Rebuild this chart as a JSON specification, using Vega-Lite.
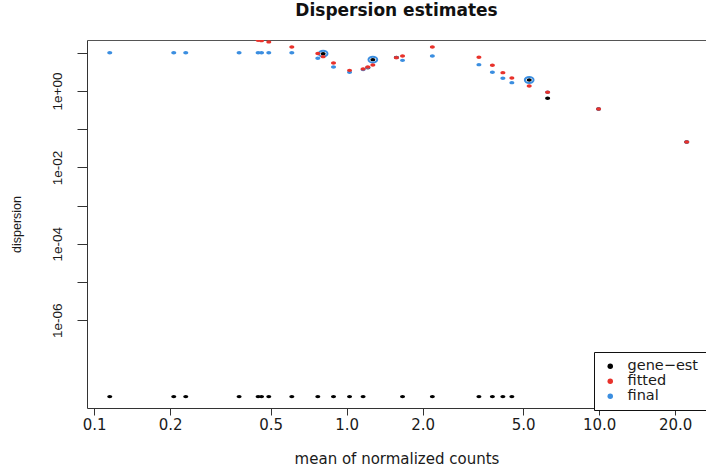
{
  "$schema": "https://vega.github.io/schema/vega-lite/v6.json",
  "width": 619,
  "height": 368,
  "autosize": {"type": "none"},
  "padding": {"left": 87, "top": 40, "right": 0, "bottom": 63},
  "background": "white",
  "title": {"text": "Dispersion estimates", "font": "DejaVu Sans", "fontSize": 17, "fontWeight": "bold", "color": "#111111", "anchor": "middle", "baseline": "alphabetic", "offset": 7},
  "data": {"values": [
    {"mean": 0.1153, "disp": 1e-8, "type": "gene−est", "outlier": false},
    {"mean": 0.2067, "disp": 1e-8, "type": "gene−est", "outlier": false},
    {"mean": 0.2306, "disp": 1e-8, "type": "gene−est", "outlier": false},
    {"mean": 0.3751, "disp": 1e-8, "type": "gene−est", "outlier": false},
    {"mean": 0.4460, "disp": 1e-8, "type": "gene−est", "outlier": false},
    {"mean": 0.4601, "disp": 1e-8, "type": "gene−est", "outlier": false},
    {"mean": 0.4917, "disp": 1e-8, "type": "gene−est", "outlier": false},
    {"mean": 0.6066, "disp": 1e-8, "type": "gene−est", "outlier": false},
    {"mean": 0.7688, "disp": 1e-8, "type": "gene−est", "outlier": false},
    {"mean": 0.8070, "disp": 9.47, "type": "gene−est", "outlier": true},
    {"mean": 0.8872, "disp": 1e-8, "type": "gene−est", "outlier": false},
    {"mean": 1.027, "disp": 1e-8, "type": "gene−est", "outlier": false},
    {"mean": 1.162, "disp": 1e-8, "type": "gene−est", "outlier": false},
    {"mean": 1.213, "disp": 4.07, "type": "gene−est", "outlier": false},
    {"mean": 1.270, "disp": 6.60, "type": "gene−est", "outlier": true},
    {"mean": 1.574, "disp": 7.6, "type": "gene−est", "outlier": false},
    {"mean": 1.665, "disp": 1e-8, "type": "gene−est", "outlier": false},
    {"mean": 2.185, "disp": 1e-8, "type": "gene−est", "outlier": false},
    {"mean": 3.341, "disp": 1e-8, "type": "gene−est", "outlier": false},
    {"mean": 3.778, "disp": 1e-8, "type": "gene−est", "outlier": false},
    {"mean": 4.157, "disp": 1e-8, "type": "gene−est", "outlier": false},
    {"mean": 4.512, "disp": 1e-8, "type": "gene−est", "outlier": false},
    {"mean": 5.285, "disp": 1.94, "type": "gene−est", "outlier": true},
    {"mean": 6.252, "disp": 0.644, "type": "gene−est", "outlier": false},
    {"mean": 9.95, "disp": 0.338, "type": "gene−est", "outlier": false},
    {"mean": 22.22, "disp": 0.0462, "type": "gene−est", "outlier": false},

    {"mean": 0.1153, "disp": 10, "type": "final", "outlier": false},
    {"mean": 0.2067, "disp": 10, "type": "final", "outlier": false},
    {"mean": 0.2306, "disp": 10, "type": "final", "outlier": false},
    {"mean": 0.3751, "disp": 10, "type": "final", "outlier": false},
    {"mean": 0.4460, "disp": 10, "type": "final", "outlier": false},
    {"mean": 0.4601, "disp": 10, "type": "final", "outlier": false},
    {"mean": 0.4917, "disp": 10, "type": "final", "outlier": false},
    {"mean": 0.6066, "disp": 10, "type": "final", "outlier": false},
    {"mean": 0.7688, "disp": 7.18, "type": "final", "outlier": false},
    {"mean": 0.8070, "disp": 9.47, "type": "final", "outlier": true},
    {"mean": 0.8872, "disp": 4.25, "type": "final", "outlier": false},
    {"mean": 1.027, "disp": 3.09, "type": "final", "outlier": false},
    {"mean": 1.162, "disp": 3.65, "type": "final", "outlier": false},
    {"mean": 1.213, "disp": 4.10, "type": "final", "outlier": false},
    {"mean": 1.270, "disp": 6.60, "type": "final", "outlier": true},
    {"mean": 1.574, "disp": 7.5, "type": "final", "outlier": false},
    {"mean": 1.665, "disp": 6.36, "type": "final", "outlier": false},
    {"mean": 2.185, "disp": 8.25, "type": "final", "outlier": false},
    {"mean": 3.341, "disp": 4.88, "type": "final", "outlier": false},
    {"mean": 3.778, "disp": 3.09, "type": "final", "outlier": false},
    {"mean": 4.157, "disp": 2.15, "type": "final", "outlier": false},
    {"mean": 4.512, "disp": 1.65, "type": "final", "outlier": false},
    {"mean": 5.285, "disp": 1.94, "type": "final", "outlier": true},
    {"mean": 6.252, "disp": 0.925, "type": "final", "outlier": false},
    {"mean": 9.95, "disp": 0.338, "type": "final", "outlier": false},
    {"mean": 22.22, "disp": 0.0462, "type": "final", "outlier": false},

    {"mean": 0.4460, "disp": 21.3, "type": "fitted", "outlier": false},
    {"mean": 0.4601, "disp": 20.7, "type": "fitted", "outlier": false},
    {"mean": 0.4917, "disp": 19.2, "type": "fitted", "outlier": false},
    {"mean": 0.6066, "disp": 14.19, "type": "fitted", "outlier": false},
    {"mean": 0.7688, "disp": 9.59, "type": "fitted", "outlier": false},
    {"mean": 0.8070, "disp": 7.91, "type": "fitted", "outlier": false},
    {"mean": 0.8872, "disp": 5.41, "type": "fitted", "outlier": false},
    {"mean": 1.027, "disp": 3.48, "type": "fitted", "outlier": false},
    {"mean": 1.162, "disp": 3.77, "type": "fitted", "outlier": false},
    {"mean": 1.213, "disp": 4.25, "type": "fitted", "outlier": false},
    {"mean": 1.270, "disp": 4.79, "type": "fitted", "outlier": false},
    {"mean": 1.574, "disp": 7.44, "type": "fitted", "outlier": false},
    {"mean": 1.665, "disp": 8.25, "type": "fitted", "outlier": false},
    {"mean": 2.185, "disp": 14.19, "type": "fitted", "outlier": false},
    {"mean": 3.341, "disp": 7.63, "type": "fitted", "outlier": false},
    {"mean": 3.778, "disp": 4.71, "type": "fitted", "outlier": false},
    {"mean": 4.157, "disp": 3.01, "type": "fitted", "outlier": false},
    {"mean": 4.512, "disp": 2.19, "type": "fitted", "outlier": false},
    {"mean": 5.285, "disp": 1.35, "type": "fitted", "outlier": false},
    {"mean": 6.252, "disp": 0.925, "type": "fitted", "outlier": false},
    {"mean": 9.95, "disp": 0.338, "type": "fitted", "outlier": false},
    {"mean": 22.22, "disp": 0.0462, "type": "fitted", "outlier": false}
  ]},
  "layer": [
    {
      "transform": [{"filter": "datum.type != 'fitted' && !(datum.type == 'final' && datum.outlier)"}],
      "mark": {"type": "point", "filled": true, "opacity": 1, "size": 11, "shape": "M-1.5,0A1.5,1,0,1,1,1.5,0A1.5,1,0,1,1,-1.5,0Z", "clip": true},
      "encoding": {
        "x": {
          "field": "mean", "type": "quantitative",
          "scale": {"type": "log", "domain": [0.0937, 26.5], "nice": false, "zero": false},
          "axis": {
            "values": [0.1, 0.2, 0.5, 1, 2, 5, 10, 20], "format": ".1f", "grid": false,
            "tickSize": 7, "tickColor": "#333333", "domainColor": "#333333",
            "labelFont": "DejaVu Sans", "labelFontSize": 15, "labelColor": "#1a1a1a",
            "labelBaseline": "alphabetic", "labelPadding": 14.5, "labelFlush": false, "labelOverlap": false,
            "title": "mean of normalized counts", "titleFont": "DejaVu Sans", "titleFontSize": 15,
            "titleFontWeight": "normal", "titleColor": "#1a1a1a", "titleBaseline": "alphabetic", "titleY": 55
          }
        },
        "y": {
          "field": "disp", "type": "quantitative",
          "scale": {"type": "log", "domain": [5.03e-9, 21.6], "nice": false, "zero": false},
          "axis": {
            "values": [10, 1, 0.1, 0.01, 0.001, 0.0001, 0.00001, 0.000001],
            "labelExpr": "abs(log(datum.value)/LN10) < 0.01 ? '1e+00' : abs(log(datum.value)/LN10 + 2) < 0.01 ? '1e-02' : abs(log(datum.value)/LN10 + 4) < 0.01 ? '1e-04' : abs(log(datum.value)/LN10 + 6) < 0.01 ? '1e-06' : ''",
            "grid": false, "tickSize": 10, "tickColor": "#333333", "domainColor": "#333333",
            "labelAngle": 270, "labelAlign": "center", "labelBaseline": "alphabetic", "labelPadding": 16,
            "labelFont": "Liberation Sans", "labelFontSize": 13.5, "labelColor": "#1a1a1a", "labelOverlap": false,
            "title": "dispersion", "titleFont": "Liberation Sans", "titleFontSize": 12.5, "titleFontWeight": "normal",
            "titleColor": "#1a1a1a", "titleAngle": 270, "titleBaseline": "alphabetic", "titleX": -67
          }
        },
        "color": {
          "field": "type", "type": "nominal",
          "scale": {"domain": ["gene−est", "fitted", "final"], "range": ["#000000", "#e8322b", "#3b8ee0"]},
          "legend": {
            "orient": "none", "legendX": 507, "legendY": 312, "title": null,
            "strokeColor": "#111111", "fillColor": "white", "padding": 7,
            "symbolType": "circle", "symbolSize": 30, "symbolOffset": 2, "symbolStrokeWidth": 0,
            "labelOffset": 10, "labelFont": "DejaVu Sans", "labelFontSize": 14.5, "labelColor": "#1a1a1a",
            "rowPadding": 0
          }
        }
      }
    },
    {
      "transform": [{"filter": "datum.type == 'final' && datum.outlier"}],
      "mark": {"type": "point", "filled": false, "strokeWidth": 2, "size": 34, "color": "#3b8ee0", "opacity": 1, "shape": "M-1.5,0A1.5,1,0,1,1,1.5,0A1.5,1,0,1,1,-1.5,0Z", "clip": true},
      "encoding": {
        "x": {"field": "mean", "type": "quantitative", "axis": null},
        "y": {"field": "disp", "type": "quantitative"}
      }
    },
    {
      "transform": [{"filter": "datum.type == 'fitted'"}],
      "mark": {"type": "point", "filled": true, "opacity": 1, "size": 11, "shape": "M-1.5,0A1.5,1,0,1,1,1.5,0A1.5,1,0,1,1,-1.5,0Z", "clip": true},
      "encoding": {
        "x": {"field": "mean", "type": "quantitative", "axis": {"orient": "top", "labels": false, "ticks": false, "title": null, "domain": true, "domainColor": "#555555", "grid": false}},
        "y": {"field": "disp", "type": "quantitative"},
        "color": {"field": "type", "type": "nominal"}
      }
    }
  ],
  "resolve": {"axis": {"x": "independent"}},
  "config": {"view": {"stroke": null}}
}
